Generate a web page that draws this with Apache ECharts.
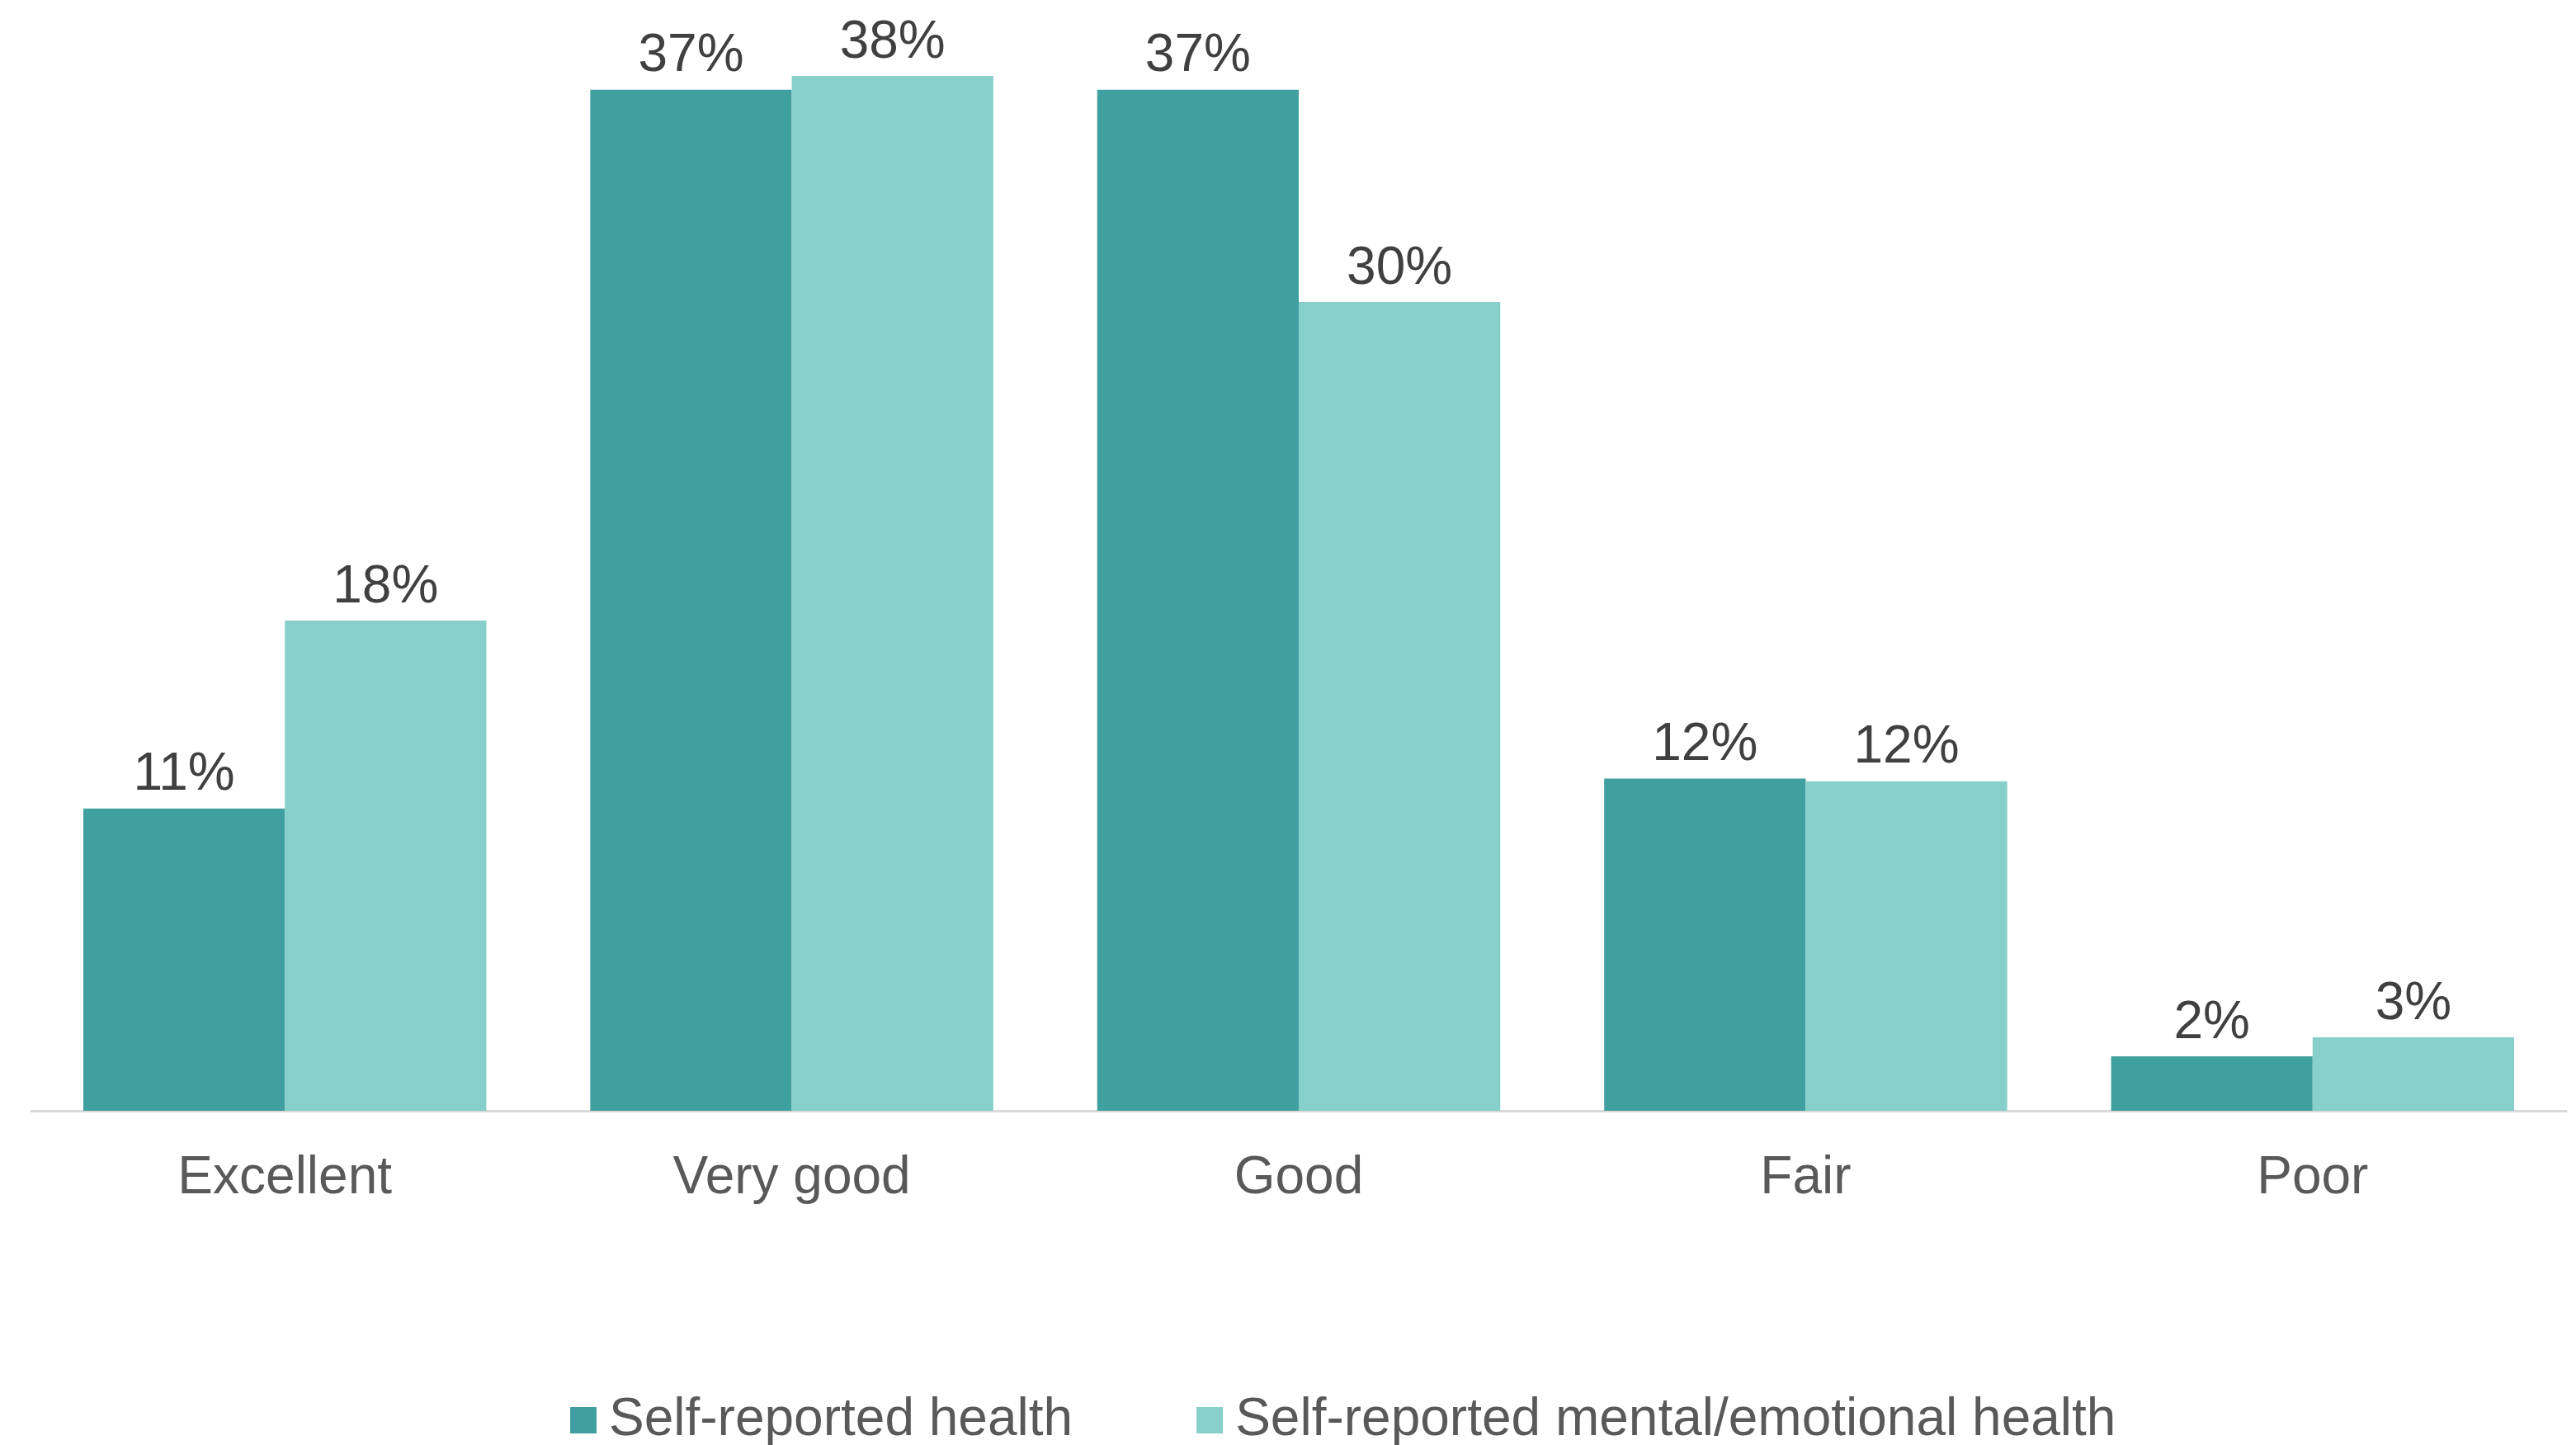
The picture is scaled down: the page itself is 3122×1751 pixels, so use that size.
<!DOCTYPE html>
<html>
<head>
<meta charset="utf-8">
<script src="https://cdn.jsdelivr.net/npm/echarts@6/dist/echarts.min.js"></script>
<style>
html,body{margin:0;padding:0;background:#fff;}
#chart{width:3122px;height:1751px;}
</style>
</head>
<body>
<div id="chart"></div>
<script>
const categories = ['Excellent', 'Very good', 'Good', 'Fair', 'Poor'];
const seriesNames = ['Self-reported health', 'Self-reported mental/emotional health'];
const selfReportedHealth = [11.1, 37.49, 37.49, 12.2, 2.0];
const mentalEmotionalHealth = [18.0, 38.0, 29.7, 12.1, 2.7];

const chart = echarts.init(document.getElementById('chart'));
const font = '"Liberation Sans", Arial, sans-serif';
const labelOpt = {
  show: true,
  position: 'top',
  distance: 8,
  fontFamily: font,
  fontSize: 64,
  color: '#404040',
  formatter: p => Math.round(p.value) + '%'
};
chart.setOption({
  animation: false,
  backgroundColor: '#ffffff',
  grid: { left: 38, right: 12, top: 26, height: 1320 },
  legend: {
    data: seriesNames,
    left: 686,
    top: 1684,
    icon: 'rect',
    itemWidth: 32,
    itemHeight: 32,
    itemGap: 150,
    textStyle: { fontFamily: font, fontSize: 64, color: '#595959', padding: [0, 0, 0, 10] }
  },
  xAxis: {
    type: 'category',
    data: categories,
    axisLine: { show: true, lineStyle: { color: '#d9d9d9', width: 3 } },
    axisTick: { show: false },
    axisLabel: { fontFamily: font, fontSize: 64, color: '#595959', margin: 50 }
  },
  yAxis: {
    type: 'value',
    min: 0,
    max: 40,
    show: false,
    splitLine: { show: false }
  },
  series: [
    {
      name: seriesNames[0],
      type: 'bar',
      data: selfReportedHealth,
      barGap: '0%',
      barCategoryGap: '20.5%',
      itemStyle: { color: '#40A09F' },
      label: labelOpt
    },
    {
      name: seriesNames[1],
      type: 'bar',
      data: mentalEmotionalHealth,
      barGap: '0%',
      barCategoryGap: '20.5%',
      itemStyle: { color: '#86CFCB' },
      label: labelOpt
    }
  ]
});
</script>
</body>
</html>
